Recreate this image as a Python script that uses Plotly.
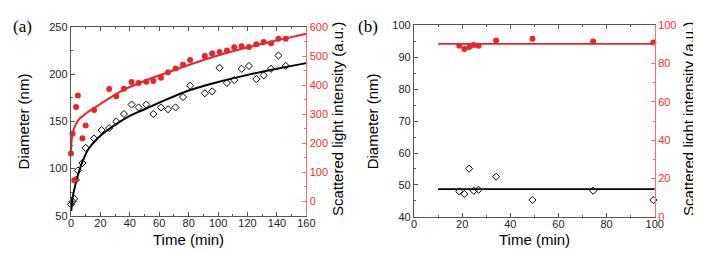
import plotly.graph_objects as go

# ---------- Panel (a) data ----------
t_a = [0, 1.1, 2.2, 3.3, 4.7, 7.8, 10, 15.7, 20.8, 26, 30.8, 36, 41.2, 46, 51.2, 56, 61.2, 66,
       71.1, 76.2, 81, 91, 96, 101, 106, 111, 116, 121, 126, 131, 136, 141, 146]
diam_a = [62, 65, 68, 88, 98, 106, 122, 132, 141, 143, 150, 158, 168, 165, 168, 158, 165, 163,
          165, 176, 188, 180, 182, 207, 191, 194, 206, 209, 195, 199, 206, 220, 209]
t_a_red = [0, 1.1, 2.2, 3.5, 4.7, 7.8, 10, 15.7, 26, 30.8, 36, 41.2, 46, 51.2, 56, 61.2, 66,
           71.1, 76.2, 81, 91, 96, 101, 106, 111, 116, 121, 126, 131, 136, 141, 146]
inten_a = [165, 234, 72, 325, 365, 217, 261, 315, 387, 362, 388, 411, 408, 412, 415, 426, 445,
           458, 471, 487, 501, 510, 515, 520, 531, 535, 532, 542, 549, 545, 561, 561]

fit_t_black = [0.2, 1, 2, 4, 7.5, 12, 18, 25, 40, 50, 60, 80, 100, 120, 140, 160]
fit_d_black = [55, 68, 76, 89, 106, 121, 132, 141, 156, 163, 170, 183, 192, 199.5, 206, 212]
fit_t_red = [0, 0.3, 1, 2, 5, 10, 16, 25, 36, 50, 60, 81, 100, 121, 140, 160]
fit_i_red = [168, 200, 228, 250, 280, 302, 322, 352, 385, 415, 434, 472, 503, 532, 555, 578]

# ---------- Panel (b) data ----------
t_b = [18.8, 20.9, 22.9, 24.8, 26.8, 34.1, 49.2, 74.4, 99.4]
diam_b = [48.0, 47.2, 55.1, 48.2, 48.5, 52.6, 45.3, 48.2, 45.3]
inten_b = [89.2, 87.6, 88.6, 89.7, 89.2, 92.0, 92.9, 91.5, 91.0]
fit_t_b = [10, 100]
fit_d_b = [48.7, 48.7]
fit_i_b = [90.2, 90.2]

RED = "#e8262a"
RED_TXT = "#ff2a2a"
RED_AX = "#ff6b6b"
FONT = "Arial"

fig = go.Figure()

diamond = dict(symbol="diamond-open", size=5.5, color="black", line=dict(width=1, color="black"))
dot = dict(symbol="circle", size=6, color=RED, line=dict(width=0))

# Panel a
fig.add_trace(go.Scatter(x=fit_t_black, y=fit_d_black, mode="lines", line=dict(color="black", width=2, shape="spline"),
                         xaxis="x", yaxis="y", showlegend=False))
fig.add_trace(go.Scatter(x=t_a, y=diam_a, mode="markers", marker=diamond, cliponaxis=False,
                         xaxis="x", yaxis="y", showlegend=False))
fig.add_trace(go.Scatter(x=fit_t_red, y=fit_i_red, mode="lines", line=dict(color=RED, width=2, shape="spline"),
                         xaxis="x", yaxis="y2", showlegend=False))
fig.add_trace(go.Scatter(x=t_a_red, y=inten_a, mode="markers", marker=dot, cliponaxis=False,
                         xaxis="x", yaxis="y2", showlegend=False))

# Panel b
fig.add_trace(go.Scatter(x=fit_t_b, y=fit_d_b, mode="lines", line=dict(color="black", width=1.8),
                         xaxis="x3", yaxis="y3", showlegend=False))
fig.add_trace(go.Scatter(x=t_b, y=diam_b, mode="markers", marker=diamond, cliponaxis=False,
                         xaxis="x3", yaxis="y3", showlegend=False))
fig.add_trace(go.Scatter(x=fit_t_b, y=fit_i_b, mode="lines", line=dict(color=RED, width=1.8),
                         xaxis="x3", yaxis="y4", showlegend=False))
fig.add_trace(go.Scatter(x=t_b, y=inten_b, mode="markers", marker=dot, cliponaxis=False,
                         xaxis="x3", yaxis="y4", showlegend=False))

W, H = 701, 254
def px(x):
    return x / W
def py(y):
    return (H - y) / H

tickfont = dict(family=FONT, size=11, color="#222")
red_tickfont = dict(family=FONT, size=11, color=RED_TXT)

def xax(domain, rng, dtick, minor, anchor):
    return dict(domain=domain, range=rng, dtick=dtick, tick0=0, anchor=anchor,
                showline=True, linecolor="#555", linewidth=1.3, mirror="ticks",
                ticks="inside", ticklen=4, tickcolor="#555", tickfont=tickfont,
                ticklabelstandoff=-3,
                minor=dict(dtick=minor, ticks="inside", ticklen=2, tickcolor="#555"),
                showgrid=False, zeroline=False, fixedrange=True)

def yleft(domain, rng, dtick, minor, anchor):
    return dict(domain=domain, range=rng, dtick=dtick, tick0=0, anchor=anchor,
                showline=True, linecolor="#555", linewidth=1.3, mirror=False,
                ticks="inside", ticklen=4, tickcolor="#555", tickfont=tickfont,
                minor=dict(dtick=minor, ticks="inside", ticklen=2, tickcolor="#555"),
                showgrid=False, zeroline=False, fixedrange=True)

def yright(over, anchor, rng, dtick, minor):
    return dict(overlaying=over, side="right", anchor=anchor, range=rng, dtick=dtick, tick0=0,
                showline=True, linecolor=RED_AX, linewidth=1.3,
                ticks="inside", ticklen=4, tickcolor=RED_AX, tickfont=red_tickfont,
                minor=dict(dtick=minor, ticks="inside", ticklen=2, tickcolor=RED_AX),
                showgrid=False, zeroline=False, fixedrange=True)

ya_dom = [py(211.7), py(14)]
yb_dom = [py(213.0), py(11.7)]
xa_dom = [px(61), px(300.5)]
xb_dom = [px(410), px(655)]

fig.update_layout(
    width=W, height=H,
    margin=dict(l=0, r=0, t=0, b=0),
    paper_bgcolor="white", plot_bgcolor="white",
    xaxis=xax(xa_dom, [0, 160], 20, 10, "y"),
    yaxis=yleft(ya_dom, [50, 250], 50, 25, "x"),
    yaxis2=yright("y", "x", [-50, 600], 100, 50),
    xaxis3=xax(xb_dom, [0, 100], 20, 10, "y3"),
    yaxis3=yleft(yb_dom, [40, 100], 10, 5, "x3"),
    yaxis4=yright("y3", "x3", [0, 100], 20, 10),
)

title_font = dict(family=FONT, size=15, color="black")
ann = []
def add(text, x, y, angle=0, font=title_font):
    ann.append(dict(text=text, x=px(x), y=py(y), xref="paper", yref="paper", showarrow=False,
                    textangle=angle, font=font, xanchor="center", yanchor="middle"))

add("Diameter (nm)", 13, 113, -90)
add("Scattered light intensity (a.u.)", 333, 110, -90)
add("Time (min)", 181, 237)
add("Diameter (nm)", 368, 113, -90)
add("Scattered light intensity (a.u.)", 690, 110, -90)
add("Time (min)", 533, 237)
serif = dict(family="Liberation Serif", size=17, color="black")
add("(a)", 12, 13, 0, serif)
add("(b)", 363, 13, 0, serif)
fig.update_layout(annotations=ann)

fig.write_html("out.html")
